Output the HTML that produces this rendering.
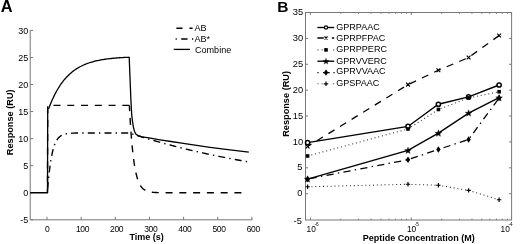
<!DOCTYPE html>
<html><head><meta charset="utf-8"><title>Figure</title>
<style>
html,body{margin:0;padding:0;background:#fff;}
svg{display:block;filter:grayscale(1) blur(0.4px);}
text{font-family:"Liberation Sans", sans-serif;fill:#000;}
.tk{font-size:8.3px;}
.sp{font-size:4.6px;}
.tkb{font-size:9.3px;}
.tka{font-size:9px;}
.tkx{font-size:8.5px;letter-spacing:-0.35px;}
.lg{font-size:9.05px;}
.al{font-size:9px;font-weight:bold;fill:#000;}

.pl{font-size:15.5px;font-weight:bold;fill:#000;}
</style></head><body>
<svg width="520" height="244" viewBox="0 0 520 244">
<rect width="520" height="244" fill="#fff"/>
<path d="M30.2,30.4 V219.8 H252.4" fill="none" stroke="#777" stroke-width="1"/>
<path d="M47.00,219.8 v-3 M81.15,219.8 v-3 M115.30,219.8 v-3 M149.45,219.8 v-3 M183.60,219.8 v-3 M217.75,219.8 v-3 M251.90,219.8 v-3 M30.2,219.80 h3 M30.2,192.74 h3 M30.2,165.69 h3 M30.2,138.63 h3 M30.2,111.57 h3 M30.2,84.51 h3 M30.2,57.46 h3 M30.2,30.40 h3 " fill="none" stroke="#777" stroke-width="1"/>
<text x="47.10" y="231.8" text-anchor="middle" class="tkx">0</text>
<text x="82.45" y="231.8" text-anchor="middle" class="tkx">100</text>
<text x="116.60" y="231.8" text-anchor="middle" class="tkx">200</text>
<text x="150.75" y="231.8" text-anchor="middle" class="tkx">300</text>
<text x="184.90" y="231.8" text-anchor="middle" class="tkx">400</text>
<text x="219.05" y="231.8" text-anchor="middle" class="tkx">500</text>
<text x="253.20" y="231.8" text-anchor="middle" class="tkx">600</text>
<text x="28.3" y="223.00" text-anchor="end" class="tka">-5</text>
<text x="28.3" y="195.94" text-anchor="end" class="tka">0</text>
<text x="28.3" y="168.89" text-anchor="end" class="tka">5</text>
<text x="28.3" y="141.83" text-anchor="end" class="tka">10</text>
<text x="28.3" y="114.77" text-anchor="end" class="tka">15</text>
<text x="28.3" y="87.71" text-anchor="end" class="tka">20</text>
<text x="28.3" y="60.66" text-anchor="end" class="tka">25</text>
<text x="28.3" y="33.60" text-anchor="end" class="tka">30</text>
<path d="M47.50,192.74 L47.72,105.35 L129.36,105.35" fill="none" stroke="#000" stroke-width="1.4" stroke-dasharray="7.0 6.77" stroke-dashoffset="3.22"/>
<path d="M129.36,105.35 L129.53,108.65 L129.70,111.82 L129.87,114.87 L130.04,117.81 L130.21,120.64 L130.38,123.36 L130.56,125.98 L130.73,128.50 L130.90,130.92 L131.07,133.25 L131.24,135.50 L131.41,137.66 L131.58,139.74 L131.75,141.74 L131.92,143.66 L132.09,145.51 L132.26,147.29 L132.43,149.01 L132.60,150.66 L132.78,152.25 L132.95,153.77 L133.12,155.25 L133.29,156.66 L133.46,158.02 L133.63,159.33 L133.80,160.59 L133.97,161.81 L134.14,162.97 L134.31,164.10 L134.48,165.18 L134.65,166.22 L134.82,167.22 L134.99,168.18 L135.17,169.11 L135.34,170.00 L135.51,170.86 L135.68,171.68 L135.85,172.48 L136.02,173.24 L136.19,173.98 L136.36,174.69 L136.53,175.37 L136.70,176.02 L136.87,176.65 L137.04,177.26 L137.21,177.85 L137.39,178.41 L137.56,178.95 L137.73,179.47 L137.90,179.97 L138.07,180.45 L138.24,180.92 L138.41,181.36 L138.58,181.79 L138.75,182.20 L138.92,182.60 L139.09,182.98 L139.26,183.35 L139.43,183.71 L139.61,184.05 L139.78,184.38 L139.95,184.69 L140.12,185.00 L140.29,185.29 L140.46,185.57 L140.63,185.84 L140.80,186.10 L140.97,186.35 L141.14,186.59 L141.31,186.82 L141.48,187.05 L141.65,187.26 L141.82,187.47 L142.00,187.67 L142.17,187.86 L142.34,188.04 L142.51,188.22 L142.68,188.39 L142.85,188.56 L143.02,188.71 L143.19,188.87 L143.36,189.01 L143.53,189.15 L143.70,189.29 L143.87,189.42 L144.04,189.54 L144.22,189.66 L144.39,189.78 L144.56,189.89 L144.73,190.00 L144.90,190.10 L145.07,190.20 L145.24,190.30 L145.41,190.39 L145.58,190.48 L145.75,190.57 L145.92,190.65 L146.09,190.73 L146.26,190.80 L146.44,190.88 L146.61,190.95 L146.78,191.01 L146.95,191.08 L147.12,191.14 L147.29,191.20 L147.46,191.26 L147.63,191.32 L147.80,191.37 L147.97,191.42 L148.14,191.47 L148.31,191.52 L148.48,191.57 L148.65,191.61 L148.83,191.65 L149.00,191.69 L149.17,191.73 L149.34,191.77 L149.51,191.81 L149.68,191.84 L149.85,191.88 L150.02,191.91 L150.19,191.94 L150.36,191.97 L150.53,192.00 L150.70,192.03 L150.87,192.06 L151.05,192.08 L151.22,192.11 L151.39,192.13 L151.56,192.15 L151.73,192.18 L151.90,192.20 L152.07,192.22 L152.24,192.24 L152.41,192.26 L152.58,192.28 L152.75,192.29 L152.92,192.31 L153.09,192.33 L153.27,192.34 L153.44,192.36 L153.61,192.37 L153.78,192.39 L153.95,192.40 L154.12,192.41 L154.29,192.42 L154.46,192.44 L154.63,192.45 L154.80,192.46 L154.97,192.47 L155.14,192.48 L155.31,192.49 L155.48,192.50 L155.66,192.51 L155.83,192.52 L156.00,192.53 L156.17,192.53 L156.34,192.54 L156.51,192.55 L156.68,192.56 L156.85,192.56 L157.02,192.57 L157.19,192.58 L157.36,192.58 L157.53,192.59 L157.70,192.60 L157.88,192.60 L158.05,192.61 L158.22,192.61 L158.39,192.62 L158.56,192.62 L158.73,192.63 L158.90,192.63 L159.07,192.63 L159.24,192.64 L159.41,192.64 L159.58,192.65 L159.75,192.65 L159.92,192.65 L160.09,192.66 L160.27,192.66 L160.44,192.66 L160.61,192.67 L160.78,192.67 L160.95,192.67 L161.12,192.67 L161.29,192.68 L161.46,192.68 L161.63,192.68 L161.80,192.68 L161.97,192.69 L162.14,192.69 L162.31,192.69 L162.49,192.69 L162.66,192.69 L162.83,192.70 L163.00,192.70 L163.17,192.70 L163.34,192.70 L248.20,192.74" fill="none" stroke="#000" stroke-width="1.4" stroke-dasharray="7.0 6.77" stroke-dashoffset="1.25"/>
<path d="M47.40,192.74 L47.57,190.49 L47.74,188.32 L47.91,186.23 L48.08,184.22 L48.25,182.28 L48.42,180.42 L48.60,178.63 L48.77,176.91 L48.94,175.25 L49.11,173.65 L49.28,172.11 L49.45,170.64 L49.62,169.21 L49.79,167.85 L49.96,166.53 L50.13,165.26 L50.30,164.04 L50.47,162.87 L50.64,161.74 L50.81,160.65 L50.99,159.61 L51.16,158.60 L51.33,157.63 L51.50,156.70 L51.67,155.81 L51.84,154.94 L52.01,154.11 L52.18,153.32 L52.35,152.55 L52.52,151.81 L52.69,151.10 L52.86,150.41 L53.03,149.75 L53.21,149.12 L53.38,148.51 L53.55,147.92 L53.72,147.36 L53.89,146.81 L54.06,146.29 L54.23,145.79 L54.40,145.30 L54.57,144.83 L54.74,144.39 L54.91,143.95 L55.08,143.54 L55.25,143.14 L55.43,142.76 L55.60,142.39 L55.77,142.03 L55.94,141.69 L56.11,141.36 L56.28,141.04 L56.45,140.73 L56.62,140.44 L56.79,140.16 L56.96,139.89 L57.13,139.62 L57.30,139.37 L57.47,139.13 L57.64,138.90 L57.82,138.67 L57.99,138.46 L58.16,138.25 L58.33,138.05 L58.50,137.85 L58.67,137.67 L58.84,137.49 L59.01,137.32 L59.18,137.16 L59.35,137.00 L59.52,136.84 L59.69,136.70 L59.86,136.55 L60.04,136.42 L60.21,136.29 L60.38,136.16 L60.55,136.04 L60.72,135.92 L60.89,135.81 L61.06,135.70 L61.23,135.60 L61.40,135.50 L61.57,135.40 L61.74,135.31 L61.91,135.22 L62.08,135.14 L62.26,135.05 L62.43,134.97 L62.60,134.90 L62.77,134.82 L62.94,134.75 L63.11,134.68 L63.28,134.62 L63.45,134.56 L63.62,134.49 L63.79,134.44 L63.96,134.38 L64.13,134.33 L64.30,134.27 L64.47,134.22 L64.65,134.18 L64.82,134.13 L64.99,134.08 L65.16,134.04 L65.33,134.00 L65.50,133.96 L65.67,133.92 L65.84,133.89 L66.01,133.85 L66.18,133.82 L66.35,133.78 L66.52,133.75 L66.69,133.72 L66.87,133.69 L67.04,133.66 L67.21,133.64 L67.38,133.61 L67.55,133.59 L67.72,133.56 L67.89,133.54 L68.06,133.52 L68.23,133.49 L68.40,133.47 L68.57,133.45 L68.74,133.43 L68.91,133.42 L69.09,133.40 L69.26,133.38 L69.43,133.37 L69.60,133.35 L69.77,133.33 L69.94,133.32 L70.11,133.31 L70.28,133.29 L70.45,133.28 L70.62,133.27 L70.79,133.25 L70.96,133.24 L71.13,133.23 L71.31,133.22 L71.48,133.21 L71.65,133.20 L71.82,133.19 L71.99,133.18 L72.16,133.17 L72.33,133.16 L72.50,133.16 L72.67,133.15 L72.84,133.14 L73.01,133.13 L73.18,133.13 L73.35,133.12 L73.52,133.11 L73.70,133.11 L73.87,133.10 L74.04,133.09 L74.21,133.09 L74.38,133.08 L74.55,133.08 L74.72,133.07 L74.89,133.07 L75.06,133.06 L75.23,133.06 L75.40,133.06 L75.57,133.05 L75.74,133.05 L75.92,133.04 L76.09,133.04 L76.26,133.04 L76.43,133.03 L76.60,133.03 L76.77,133.03 L76.94,133.02 L77.11,133.02 L77.28,133.02 L77.45,133.02 L77.62,133.01 L77.79,133.01 L77.96,133.01 L78.14,133.01 L78.31,133.00 L78.48,133.00 L78.65,133.00 L78.82,133.00 L78.99,133.00 L79.16,132.99 L79.33,132.99 L79.50,132.99 L79.67,132.99 L79.84,132.99 L80.01,132.99 L80.18,132.98 L80.35,132.98 L80.53,132.98 L80.70,132.98 L80.87,132.98 L81.04,132.98 L81.21,132.98 L81.38,132.97 L129.36,132.95 L130.04,133.17 L131.41,133.62 L132.78,134.07 L134.14,134.51 L135.51,134.95 L136.87,135.39 L138.24,135.82 L139.61,136.25 L140.97,136.68 L142.34,137.10 L143.70,137.52 L145.07,137.94 L146.44,138.35 L147.80,138.76 L149.17,139.17 L150.53,139.57 L151.90,139.97 L153.27,140.37 L154.63,140.77 L156.00,141.16 L157.36,141.55 L158.73,141.93 L160.09,142.32 L161.46,142.70 L162.83,143.08 L164.19,143.45 L165.56,143.82 L166.93,144.19 L168.29,144.56 L169.66,144.92 L171.02,145.28 L172.39,145.64 L173.75,146.00 L175.12,146.35 L176.49,146.70 L177.85,147.05 L179.22,147.39 L180.59,147.73 L181.95,148.07 L183.32,148.41 L184.68,148.75 L186.05,149.08 L187.42,149.41 L188.78,149.73 L190.15,150.06 L191.51,150.38 L192.88,150.70 L194.25,151.02 L195.61,151.33 L196.98,151.65 L198.34,151.96 L199.71,152.26 L201.08,152.57 L202.44,152.87 L203.81,153.17 L205.17,153.47 L206.54,153.77 L207.91,154.06 L209.27,154.35 L210.64,154.64 L212.00,154.93 L213.37,155.22 L214.74,155.50 L216.10,155.78 L217.47,156.06 L218.83,156.34 L220.20,156.61 L221.57,156.88 L222.93,157.16 L224.30,157.42 L225.66,157.69 L227.03,157.95 L228.40,158.22 L229.76,158.48 L231.13,158.74 L232.49,158.99 L233.86,159.25 L235.23,159.50 L236.59,159.75 L237.96,160.00 L239.32,160.25 L240.69,160.49 L242.06,160.74 L243.42,160.98 L244.79,161.22 L246.15,161.46 L247.52,161.69 L248.89,161.93" fill="none" stroke="#000" stroke-width="1.4" stroke-dasharray="7.0 4.15 1.4 4.15" stroke-dashoffset="13.08"/>
<path d="M30.20,192.74 L47.50,192.74 L47.71,108.60 L48.77,108.46 L49.79,105.78 L50.81,103.23 L51.84,100.81 L52.86,98.52 L53.89,96.35 L54.91,94.29 L55.94,92.33 L56.96,90.48 L57.99,88.72 L59.01,87.06 L60.04,85.48 L61.06,83.98 L62.08,82.55 L63.11,81.20 L64.13,79.93 L65.16,78.71 L66.18,77.56 L67.21,76.47 L68.23,75.44 L69.26,74.46 L70.28,73.53 L71.31,72.64 L72.33,71.81 L73.35,71.01 L74.38,70.26 L75.40,69.54 L76.43,68.87 L77.45,68.23 L78.48,67.62 L79.50,67.04 L80.53,66.49 L81.55,65.97 L82.57,65.48 L83.60,65.01 L84.62,64.57 L85.65,64.15 L86.67,63.75 L87.70,63.37 L88.72,63.01 L89.75,62.67 L90.77,62.35 L91.80,62.05 L92.82,61.76 L93.84,61.48 L94.87,61.22 L95.89,60.97 L96.92,60.74 L97.94,60.52 L98.97,60.30 L99.99,60.10 L101.02,59.91 L102.04,59.73 L103.06,59.56 L104.09,59.40 L105.11,59.25 L106.14,59.10 L107.16,58.97 L108.19,58.83 L109.21,58.71 L110.24,58.59 L111.26,58.48 L112.28,58.37 L113.31,58.27 L114.33,58.18 L115.36,58.09 L116.38,58.00 L117.41,57.92 L118.43,57.84 L119.46,57.77 L120.48,57.70 L121.51,57.64 L122.53,57.57 L123.55,57.52 L124.58,57.46 L125.60,57.41 L126.63,57.36 L127.65,57.31 L128.68,57.26 L129.20,57.40 L130.90,100.00 L131.70,114.80 L132.60,122.00 L133.40,127.10 L134.40,131.20 L135.80,134.00 L138.00,135.60 L142.00,136.80 L150.50,138.20 L160.00,139.80 L171.00,141.50 L180.00,142.90 L195.00,145.10 L210.00,147.30 L230.00,149.90 L248.80,152.20" fill="none" stroke="#000" stroke-width="1.3" stroke-linejoin="round"/>
<path d="M176.4,28.3 H182.5 M189.5,28.3 H192.6" stroke="#000" stroke-width="1.45"/>
<path d="M175.6,39 h1.2 M181.2,39 H187.5 M192,39 h1.2" stroke="#000" stroke-width="1.45"/>
<path d="M173.7,49.4 H190" stroke="#000" stroke-width="1.3"/>
<text x="194.5" y="31.4" class="lg">AB</text>
<text x="194.5" y="42.1" class="lg">AB*</text>
<text x="195" y="52.6" class="lg">Combine</text>
<text x="0.7" y="11.8" class="pl" style="font-size:16.4px">A</text>
<text x="146.7" y="240" text-anchor="middle" class="al">Time (s)</text>
<text transform="translate(13.4,122.3) rotate(-90)" text-anchor="middle" class="al" style="font-size:9.2px">Response (RU)</text>
<rect x="305.5" y="12.5" width="206.10000000000002" height="207.5" fill="none" stroke="#777" stroke-width="1"/>
<path d="M305.5,193.71 h2.5 M511.6,193.71 h-2.5 M305.5,167.82 h2.5 M511.6,167.82 h-2.5 M305.5,141.94 h2.5 M511.6,141.94 h-2.5 M305.5,116.05 h2.5 M511.6,116.05 h-2.5 M305.5,90.16 h2.5 M511.6,90.16 h-2.5 M305.5,64.27 h2.5 M511.6,64.27 h-2.5 M305.5,38.39 h2.5 M511.6,38.39 h-2.5 M310.40,220.0 v-2.5 M310.40,12.5 v2.5 M340.76,220.0 v-1.3 M340.76,12.5 v1.3 M358.52,220.0 v-1.3 M358.52,12.5 v1.3 M371.12,220.0 v-1.3 M371.12,12.5 v1.3 M380.89,220.0 v-1.3 M380.89,12.5 v1.3 M388.88,220.0 v-1.3 M388.88,12.5 v1.3 M395.63,220.0 v-1.3 M395.63,12.5 v1.3 M401.48,220.0 v-1.3 M401.48,12.5 v1.3 M406.64,220.0 v-1.3 M406.64,12.5 v1.3 M411.25,220.0 v-2.5 M411.25,12.5 v2.5 M441.61,220.0 v-1.3 M441.61,12.5 v1.3 M459.37,220.0 v-1.3 M459.37,12.5 v1.3 M471.97,220.0 v-1.3 M471.97,12.5 v1.3 M481.74,220.0 v-1.3 M481.74,12.5 v1.3 M489.73,220.0 v-1.3 M489.73,12.5 v1.3 M496.48,220.0 v-1.3 M496.48,12.5 v1.3 M502.33,220.0 v-1.3 M502.33,12.5 v1.3 M507.49,220.0 v-1.3 M507.49,12.5 v1.3 " fill="none" stroke="#777" stroke-width="1"/>
<text x="301.9" y="224.30" text-anchor="end" class="tkb">-5</text>
<text x="302.4" y="196.31" text-anchor="end" class="tkb">0</text>
<text x="302.4" y="170.42" text-anchor="end" class="tkb">5</text>
<text x="303.2" y="144.54" text-anchor="end" class="tkb">10</text>
<text x="303.2" y="118.65" text-anchor="end" class="tkb">15</text>
<text x="303.2" y="92.76" text-anchor="end" class="tkb">20</text>
<text x="303.2" y="66.87" text-anchor="end" class="tkb">25</text>
<text x="303.2" y="40.99" text-anchor="end" class="tkb">30</text>
<text x="303.2" y="15.10" text-anchor="end" class="tkb">35</text>
<text x="306.60" y="231.9" class="tk">10</text>
<text x="314.50" y="225.5" class="sp">-6</text>
<text x="406.90" y="231.9" class="tk">10</text>
<text x="414.80" y="225.5" class="sp">-5</text>
<text x="500.60" y="231.9" class="tk">10</text>
<text x="508.50" y="225.5" class="sp">-4</text>
<path d="M307.60,142.66 L408.00,126.46 L438.40,104.25 L468.60,96.89 L499.10,84.98" fill="none" stroke="#000" stroke-width="1.4"/>
<circle cx="307.60" cy="142.66" r="2.10" fill="#fff" stroke="#000" stroke-width="1.5"/>
<circle cx="408.00" cy="126.46" r="2.10" fill="#fff" stroke="#000" stroke-width="1.5"/>
<circle cx="438.40" cy="104.25" r="2.10" fill="#fff" stroke="#000" stroke-width="1.5"/>
<circle cx="468.60" cy="96.89" r="2.10" fill="#fff" stroke="#000" stroke-width="1.5"/>
<circle cx="499.10" cy="84.98" r="2.10" fill="#fff" stroke="#000" stroke-width="1.5"/>
<path d="M307.60,146.44 L408.00,84.62 L438.40,70.23 L468.60,57.54 L499.10,35.49" fill="none" stroke="#000" stroke-width="1.3" stroke-dasharray="7.1 6.5" stroke-dashoffset="2.7"/>
<path d="M305.70,144.54 l3.80,3.80 M305.70,148.34 l3.80,-3.80" stroke="#000" stroke-width="1.15" fill="none"/>
<path d="M406.10,82.72 l3.80,3.80 M406.10,86.52 l3.80,-3.80" stroke="#000" stroke-width="1.15" fill="none"/>
<path d="M436.50,68.33 l3.80,3.80 M436.50,72.13 l3.80,-3.80" stroke="#000" stroke-width="1.15" fill="none"/>
<path d="M466.70,55.64 l3.80,3.80 M466.70,59.44 l3.80,-3.80" stroke="#000" stroke-width="1.15" fill="none"/>
<path d="M497.20,33.59 l3.80,3.80 M497.20,37.39 l3.80,-3.80" stroke="#000" stroke-width="1.15" fill="none"/>
<path d="M307.60,155.97 L408.00,128.99 L438.40,109.47 L468.60,97.93 L499.10,91.72" fill="none" stroke="#000" stroke-width="1.05" stroke-dasharray="1.0 2.85" stroke-dashoffset="0" opacity="0.85"/>
<rect x="305.80" y="154.17" width="3.6" height="3.6" fill="#000"/>
<rect x="406.20" y="127.19" width="3.6" height="3.6" fill="#000"/>
<rect x="436.60" y="107.67" width="3.6" height="3.6" fill="#000"/>
<rect x="466.80" y="96.13" width="3.6" height="3.6" fill="#000"/>
<rect x="497.30" y="89.92" width="3.6" height="3.6" fill="#000"/>
<path d="M307.60,179.06 L408.00,150.38 L438.40,133.14 L468.60,113.05 L499.10,97.72" fill="none" stroke="#000" stroke-width="1.4"/>
<polygon points="307.60,175.76 308.48,178.15 311.02,178.25 309.03,179.82 309.72,182.27 307.60,180.86 305.48,182.27 306.17,179.82 304.18,178.25 306.72,178.15" fill="#000" stroke="#000" stroke-width="0.3"/>
<polygon points="408.00,147.08 408.88,149.46 411.42,149.56 409.43,151.14 410.12,153.59 408.00,152.18 405.88,153.59 406.57,151.14 404.58,149.56 407.12,149.46" fill="#000" stroke="#000" stroke-width="0.3"/>
<polygon points="438.40,129.84 439.28,132.22 441.82,132.32 439.83,133.90 440.52,136.35 438.40,134.94 436.28,136.35 436.97,133.90 434.98,132.32 437.52,132.22" fill="#000" stroke="#000" stroke-width="0.3"/>
<polygon points="468.60,109.75 469.48,112.13 472.02,112.23 470.03,113.81 470.72,116.26 468.60,114.85 466.48,116.26 467.17,113.81 465.18,112.23 467.72,112.13" fill="#000" stroke="#000" stroke-width="0.3"/>
<polygon points="499.10,94.42 499.98,96.81 502.52,96.91 500.53,98.49 501.22,100.93 499.10,99.52 496.98,100.93 497.67,98.49 495.68,96.91 498.22,96.81" fill="#000" stroke="#000" stroke-width="0.3"/>
<path d="M307.60,179.06 L408.00,159.70 L438.40,149.44 L468.60,139.45 L499.10,97.93" fill="none" stroke="#000" stroke-width="1.3" stroke-dasharray="7.2 4.3 1.4 4.3" stroke-dashoffset="15.1"/>
<polygon points="307.60,175.86 309.80,179.06 307.60,182.26 305.40,179.06" fill="#000"/>
<polygon points="408.00,156.50 410.20,159.70 408.00,162.90 405.80,159.70" fill="#000"/>
<polygon points="438.40,146.24 440.60,149.44 438.40,152.64 436.20,149.44" fill="#000"/>
<polygon points="468.60,136.25 470.80,139.45 468.60,142.65 466.40,139.45" fill="#000"/>
<polygon points="499.10,94.73 501.30,97.93 499.10,101.13 496.90,97.93" fill="#000"/>
<path d="M307.60,186.77 L408.00,184.29 L438.40,185.27 L468.60,190.40 L499.10,199.77" fill="none" stroke="#000" stroke-width="1.05" stroke-dasharray="1.0 2.85" stroke-dashoffset="0" opacity="0.85"/>
<path d="M305.40,186.77 h4.40 M307.60,184.57 v4.40" stroke="#000" stroke-width="1.15" fill="none"/>
<path d="M405.80,184.29 h4.40 M408.00,182.09 v4.40" stroke="#000" stroke-width="1.15" fill="none"/>
<path d="M436.20,185.27 h4.40 M438.40,183.07 v4.40" stroke="#000" stroke-width="1.15" fill="none"/>
<path d="M466.40,190.40 h4.40 M468.60,188.20 v4.40" stroke="#000" stroke-width="1.15" fill="none"/>
<path d="M496.90,199.77 h4.40 M499.10,197.57 v4.40" stroke="#000" stroke-width="1.15" fill="none"/>
<path d="M317.4,27.5 H334.2" stroke="#000" stroke-width="1.35"/>
<circle cx="326.00" cy="27.50" r="1.60" fill="#fff" stroke="#000" stroke-width="1.2"/>
<text x="336.2" y="30.30" class="lg">GPRPAAC</text>
<path d="M317.4,38.0 H323.8 M331.9,38.0 H334.2" stroke="#000" stroke-width="1.35"/>
<path d="M324.48,36.48 l3.04,3.04 M324.48,39.52 l3.04,-3.04" stroke="#000" stroke-width="1.15" fill="none"/>
<text x="336.2" y="40.70" class="lg">GPRPFPAC</text>
<path d="M317.4,49.9 h1.1 M321.6,49.9 h1.1 M333.2,49.9 h1.1" stroke="#000" stroke-width="1.1" opacity="0.7"/>
<rect x="324.20" y="48.10" width="3.6" height="3.6" fill="#000"/>
<text x="336.2" y="52.30" class="lg">GPRPPERC</text>
<path d="M317.4,61.2 H334.2" stroke="#000" stroke-width="1.35"/>
<polygon points="326.00,58.26 326.79,60.41 329.08,60.50 327.28,61.92 327.90,64.12 326.00,62.85 324.10,64.12 324.72,61.92 322.92,60.50 325.21,60.41" fill="#000" stroke="#000" stroke-width="0.3"/>
<text x="336.2" y="63.60" class="lg">GPRVVERC</text>
<path d="M317.4,72.6 h1.2 M323,72.6 H329.7 M333.4,72.6 h1.2" stroke="#000" stroke-width="1.3"/>
<polygon points="326.00,69.40 328.20,72.60 326.00,75.80 323.80,72.60" fill="#000"/>
<text x="336.2" y="74.40" class="lg">GPRVVAAC</text>
<path d="M317.4,83.8 h1.1 M321.6,83.8 h1.1 M333.2,83.8 h1.1" stroke="#000" stroke-width="1.1" opacity="0.7"/>
<path d="M323.80,83.80 h4.40 M326.00,81.60 v4.40" stroke="#000" stroke-width="1.15" fill="none"/>
<text x="336.2" y="85.60" class="lg">GPSPAAC</text>
<text x="277.3" y="12.4" class="pl">B</text>
<text x="418.8" y="240.6" text-anchor="middle" class="al">Peptide Concentration (M)</text>
<text transform="translate(289.0,103.9) rotate(-90)" text-anchor="middle" class="al" style="font-size:9.2px">Response (RU)</text>
</svg>
</body></html>
